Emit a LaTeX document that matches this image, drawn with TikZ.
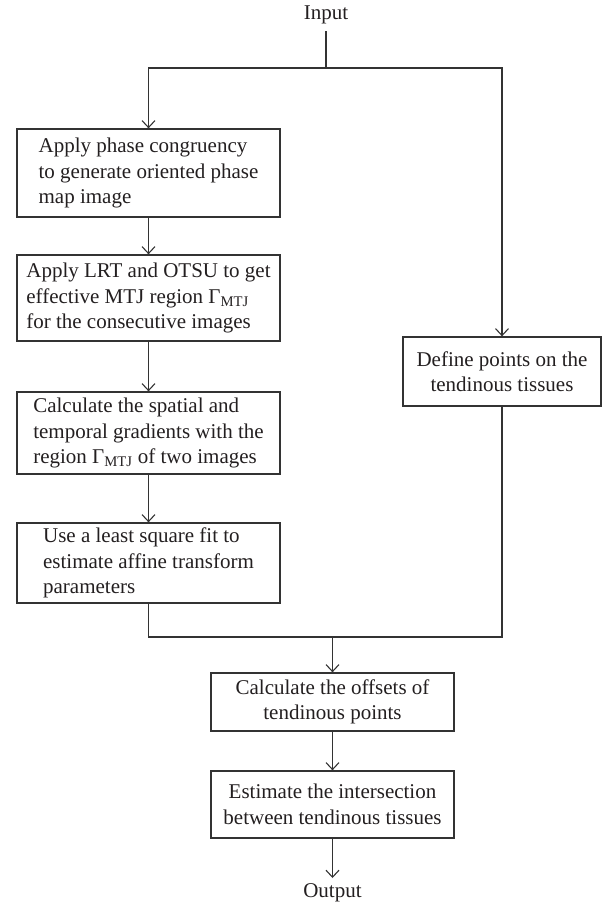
\documentclass[tikz,border=0pt]{standalone}
\usepackage{fontspec}
\setmainfont{Liberation Serif}
\usetikzlibrary{arrows.meta}
\definecolor{ln}{HTML}{333333}
\definecolor{tx}{HTML}{231F20}
\begin{document}
\begin{tikzpicture}[x=1pt,y=1pt,
  every node/.style={text=tx, font=\fontsize{21}{25.5}\selectfont},
  stepbox/.style={draw=ln, line width=1.3pt, inner sep=0pt, minimum height=#1},
  leftbox/.style={stepbox=#1, minimum width=263, align=left},
  flow/.style={draw=ln, line width=1.3pt},
  arr/.style={flow, -{Straight Barb[length=7pt,width=13pt,line width=1.1pt]}}]
\useasboundingbox (0,0) rectangle (603,-908);
\node (in) at (326,-15) {Input};
\node[leftbox=88] (b1) at (148.5,-173) {Apply phase congruency\\to generate oriented phase\\map image};
\node[leftbox=86] (b2) at (148.5,-298) {Apply LRT and OTSU to get\\effective MTJ region Γ\textsubscript{MTJ}\\for the consecutive images};
\node[leftbox=82] (b3) at (148.5,-433) {Calculate the spatial and\\temporal gradients with the\\region Γ\textsubscript{MTJ} of two images};
\node[leftbox=80] (b4) at (148.5,-563) {Use a least square fit to\\estimate affine transform\\parameters};
\node[stepbox=69, minimum width=198, align=center] (rb) at (502,-371.5) {Define points on the\\tendinous tissues};
\node[stepbox=58, minimum width=243, align=center] (b5) at (332.5,-702) {Calculate the offsets of\\tendinous points};
\node[stepbox=67, minimum width=243, align=center] (b6) at (332.5,-804.5) {Estimate the intersection\\between tendinous tissues};
\node[anchor=north, inner sep=5pt] (out) at (332.5,-878) {Output};
\coordinate (split) at (326,-68);
\coordinate (merge) at (332.5,-637);
\draw[flow] (326,-31) -- (split);
\draw[arr] (split) -| (b1.north);
\draw[arr] (split) -| (rb.north);
\draw[arr] (b1) -- (b2);
\draw[arr] (b2) -- (b3);
\draw[arr] (b3) -- (b4);
\draw[flow] (b4.south) |- (merge);
\draw[flow] (rb.south) |- (merge);
\draw[arr] (merge) -- (b5.north);
\draw[arr] (b5) -- (b6);
\draw[arr] (b6.south) -- (out.north);
\end{tikzpicture}
\end{document}
